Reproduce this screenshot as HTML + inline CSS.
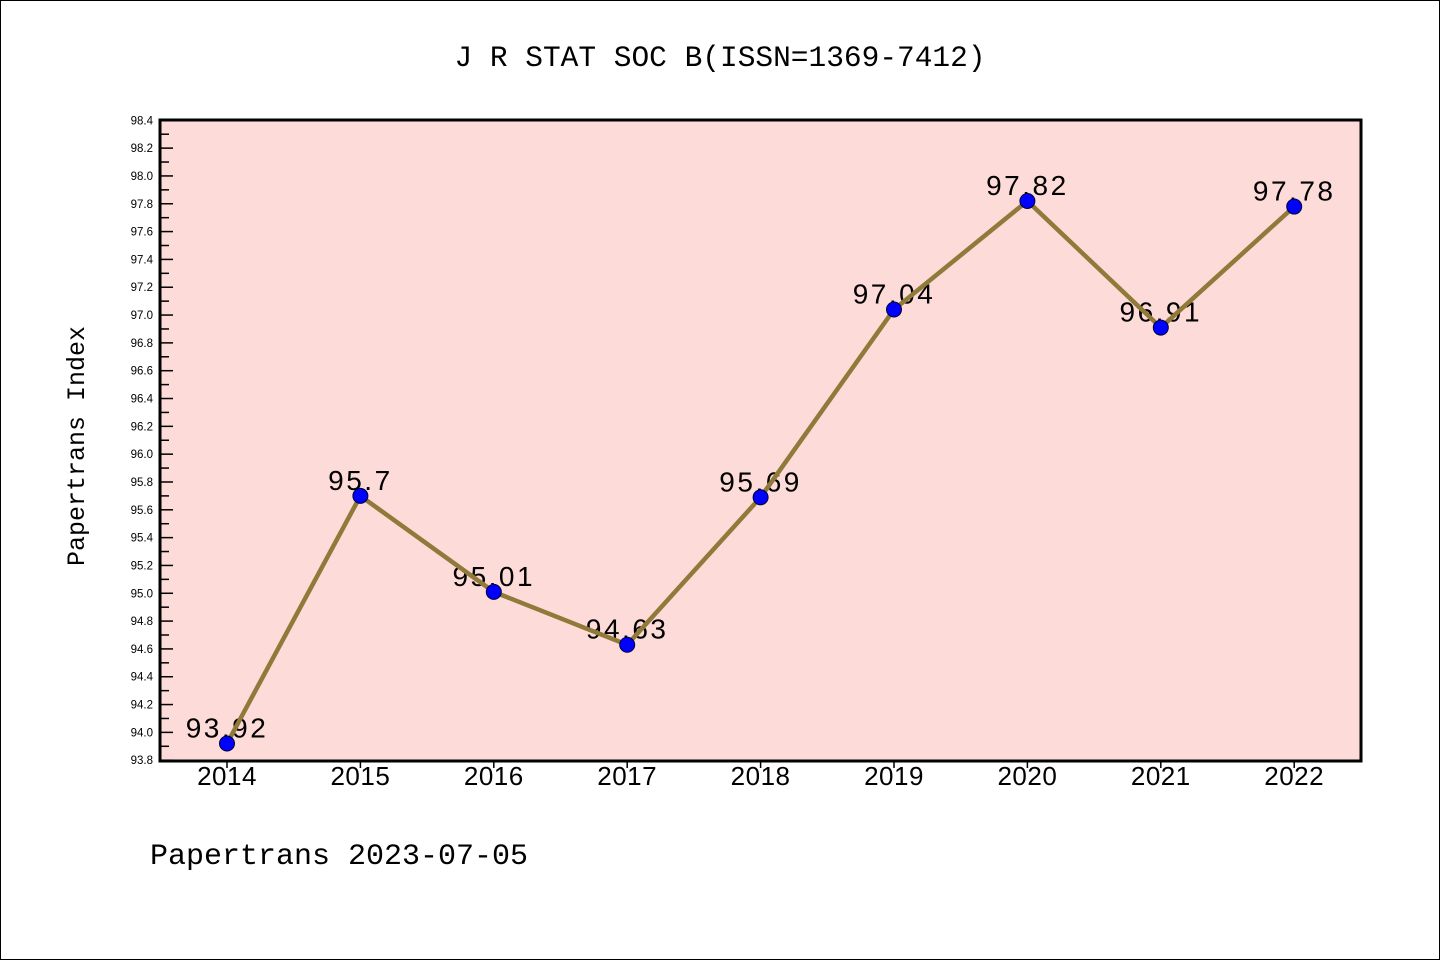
<!DOCTYPE html>
<html><head><meta charset="utf-8"><style>
html,body{margin:0;padding:0;background:#fff}
svg{display:block}
</style></head><body>
<svg width="1440" height="960" viewBox="0 0 1440 960" xmlns="http://www.w3.org/2000/svg">
<rect x="0.5" y="0.5" width="1439" height="959" fill="#fff" stroke="#000"/>
<text x="720" y="66" text-anchor="middle" font-family="Liberation Mono, monospace" font-size="29.5">J R STAT SOC B(ISSN=1369-7412)</text>
<rect x="160" y="120" width="1201" height="641" fill="#fddbd8"/>
<g id="axes"></g>
<g id="series"></g>
<rect x="160" y="120" width="1201" height="641" fill="none" stroke="#000" stroke-width="3"/>
<text transform="translate(84,446) rotate(-90)" text-anchor="middle" font-family="Liberation Mono, monospace" font-size="25">Papertrans Index</text>
<text x="150" y="864" font-family="Liberation Mono, monospace" font-size="30">Papertrans 2023-07-05</text>
</svg>
<script>
const years = [2014,2015,2016,2017,2018,2019,2020,2021,2022];
const values = [93.92,95.7,95.01,94.63,95.69,97.04,97.82,96.91,97.78];
const pointLabels = ["93.92","95.7","95.01","94.63","95.69","97.04","97.82","96.91","97.78"];
const yTicks = [93.8,94.0,94.2,94.4,94.6,94.8,95.0,95.2,95.4,95.6,95.8,96.0,96.2,96.4,96.6,96.8,97.0,97.2,97.4,97.6,97.8,98.0,98.2,98.4];
const yMin = 93.8, yMax = 98.4;
const NS = "http://www.w3.org/2000/svg";
function y(v){ return 760.2 - (v - yMin) / (yMax - yMin) * 639.9; }
function x(i){ return 227 + i * 133.4; }
function mk(tag, attrs, parent){ const e=document.createElementNS(NS,tag); for(const k in attrs) e.setAttribute(k,attrs[k]); parent.appendChild(e); return e; }
const axes=document.getElementById('axes'), series=document.getElementById('series');
yTicks.forEach((t,i)=>{
  const yy=y(t);
  const tk=mk('line',{x1:160,x2:173,y1:yy,y2:yy,stroke:'#000','stroke-width':1.5},axes);
  
  
  const lb=mk('text',{x:153,y:yy+4,'text-anchor':'end','font-family':'Liberation Sans, sans-serif','font-size':11.5},axes);
  lb.textContent=t.toFixed(1);
  
  
  if(i<yTicks.length-1){
    const ym=y(t+0.1);
    const mt=mk('line',{x1:160,x2:169,y1:ym,y2:ym,stroke:'#000','stroke-width':1.5},axes);
    
    
  }
});
years.forEach((yr,i)=>{
  const tk=mk('line',{x1:x(i),x2:x(i),y1:761,y2:768,stroke:'#000','stroke-width':1.5},axes);
  
  
  const lb=mk('text',{x:x(i),y:785,'text-anchor':'middle','font-family':'Liberation Sans, sans-serif','font-size':26,'letter-spacing':0.5},axes);
  lb.textContent=yr;
  
  
});
values.forEach((v,i)=>{
  const lb=mk('text',{x:x(i),y:y(v)-6,'text-anchor':'middle','font-family':'Liberation Sans, sans-serif','font-size':28,'letter-spacing':2.5},series);
  lb.textContent=pointLabels[i];
  
  
});
const line=mk('polyline',{points:values.map((v,i)=>x(i)+','+y(v)).join(' '),fill:'none',stroke:'#8f7a3a','stroke-width':4.5,'stroke-linejoin':'round'},series);


values.forEach((v,i)=>{
  const c=mk('circle',{cx:x(i),cy:y(v),r:7.5,fill:'#0000ff',stroke:'#000033','stroke-width':1},series);
  
  
});
</script>
</body></html>
